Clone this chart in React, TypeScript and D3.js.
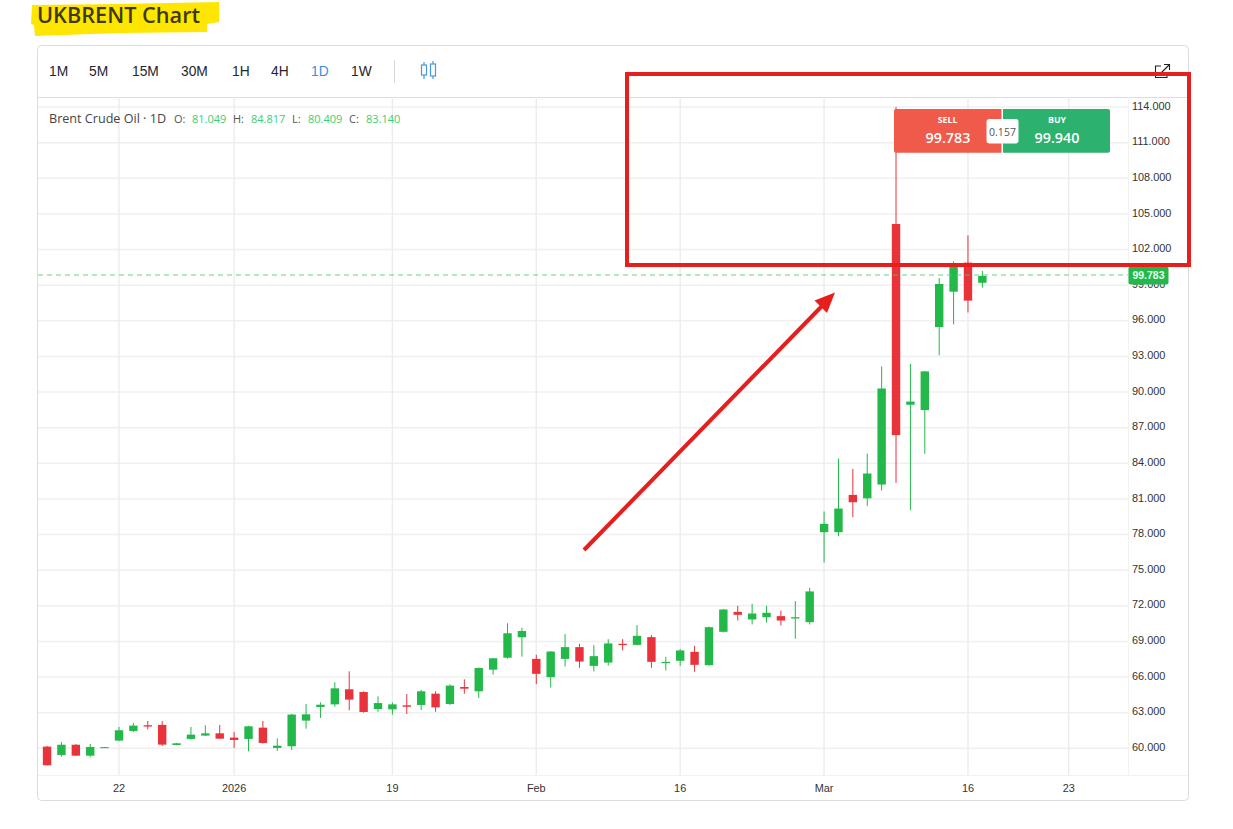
import React from "react";
import * as d3 from "d3";

// Candle values; the first candle sits at bar index -5 (Dec 22 = 0)
const firstIndex = -5;
const opens = [60.14,59.44,60.3,59.38,60.05,60.65,61.46,61.94,61.97,60.28,60.79,61.07,61.26,60.9,60.79,61.74,60.03,60.17,62.33,63.48,63.7,64.97,64.74,63.31,63.28,63.62,63.65,64.6,63.73,65.16,64.8,66.62,67.63,69.35,67.53,65.99,67.53,68.52,66.94,67.22,68.8,68.71,69.36,67.17,67.37,68.12,67.0,69.81,71.49,70.85,71.04,71.13,70.93,70.62,78.2,78.2,81.34,81.049,82.21,104.15,88.93,88.48,95.47,98.45,100.9,99.2];
const closes = [58.57,60.3,59.38,60.11,60.1,61.52,61.91,61.83,60.31,60.42,61.15,61.26,60.81,60.7,61.85,60.45,60.22,62.84,62.86,63.67,65.05,64.1,63.06,63.81,63.7,63.5,64.8,63.45,65.28,65.02,66.76,67.58,69.69,69.88,66.27,68.15,68.52,67.31,67.76,68.83,68.69,69.47,67.28,67.28,68.24,67.03,70.2,71.69,71.24,71.35,71.41,70.76,71.04,73.21,78.9,80.19,80.72,83.14,90.3,86.37,89.2,91.74,99.1,100.55,97.7,99.783];
const highs = [60.2,60.53,60.35,60.37,60.12,61.8,62.13,62.3,62.3,60.45,61.8,61.94,61.97,61.38,61.9,62.3,60.84,62.9,63.73,63.87,65.56,66.48,64.8,64.38,63.87,64.57,64.91,64.8,65.39,65.81,66.8,67.6,70.53,70.16,67.87,68.17,69.61,68.8,68.69,69.19,69.19,70.37,69.53,67.7,68.35,68.63,70.25,71.72,72,72.17,72,71.6,72.4,73.52,79.94,84.4,83.53,84.817,92.16,114,92.38,91.76,99.6,101,103.2,100.2];
const lows = [58.55,59.3,59.35,59.24,60.03,60.6,61.38,61.6,60.2,60.25,60.75,61.04,60.79,60.03,59.75,60.4,59.78,59.86,61.65,62.55,63.5,63.2,63.0,63.08,62.83,62.89,63.22,63.08,63.65,64.6,64.24,66.2,67.55,67.72,65.4,65.12,66.89,66.78,66.47,66.97,68.24,68.69,66.78,66.55,66.94,66.44,66.97,69.75,70.76,70.43,70.6,70.34,69.22,70.43,75.64,77.86,79.46,80.409,81.71,82.35,80.05,84.8,93.1,95.7,96.7,98.8];

const priceTicks = [60,63,66,69,72,75,78,81,84,87,90,93,96,99,102,105,108,111,114];
const dateTickLabels = ["22","2026","19","Feb","16","Mar","16","23"];
const dateTickIndexes = [0,8,19,29,39,49,59,66];
const intervals = ["1M","5M","15M","30M","1H","4H","1D","1W"];
const intervalX = [49,89,132,181,232,271,311,351];
const legendLabels = ["O:","H:","L:","C:"];
const legendValues = ["81.049","84.817","80.409","83.140"];
const legendLabelX = [174,233,292,349];
const legendValueX = [192,251,308,366];
const sellPrice = 99.783;
const buyPrice = 99.94;
const spread = 0.157;

const UP = "#22b84a";
const DOWN = "#e8333a";
const SANS = "'Open Sans', sans-serif";
const ARIAL = "'Liberation Sans', Arial, sans-serif";

export default function App() {
  const x = d3.scaleLinear().domain([0, 66]).range([119, 1068.7]);
  const y = d3.scaleLinear().domain([60, 114]).range([748.3, 107.05]);
  const bodyW = 8.4;
  const left = 38, right = 1128, top = 97, bottom = 775;

  return (
    <svg width={1233} height={829} style={{ position: "absolute", left: 0, top: 0, background: "#fff" }}>
      {/* title */}
      <path d="M32 5 L120 4 L219 2 L219 22 L207 24 L207 32 L120 33 L35 36 L34 25 L31 24 Z" fill="#ffe600" />
      <text x={37} y={23} fontFamily={SANS} fontWeight={600} fontSize={21.7} fill="#3f3a00">UKBRENT Chart</text>

      {/* panel */}
      <rect x={37.5} y={45.5} width={1151} height={755} rx={4} fill="#fff" stroke="#dcdcdc" />
      <line x1={38} x2={1188} y1={97.5} y2={97.5} stroke="#dedede" />

      {/* toolbar */}
      {intervals.map((t, i) => (
        <text key={t} x={intervalX[i]} y={76} fontFamily={ARIAL} fontSize={13.8} fill={t === "1D" ? "#3d8fd6" : "#1f2530"}>{t}</text>
      ))}
      <line x1={394.5} x2={394.5} y1={60} y2={83} stroke="#d8d8d8" />
      <g stroke="#4a98dc" fill="none" strokeWidth={1.2}>
        <rect x={421.5} y={65} width={5} height={10} />
        <rect x={430.5} y={64} width={5} height={12} />
        <path d="M424 62V65M424 75V79M433 61V64M433 76V79" />
      </g>
      <g stroke="#222" fill="none" strokeWidth={1.1}>
        <path d="M1161 66H1155.5V77.5H1167V72" />
        <path d="M1161 73L1169 65M1164 64.5H1169.5V70" />
      </g>

      {/* grid */}
      {priceTicks.map(t => (
        <line key={t} x1={left} x2={right} y1={y(t)} y2={y(t)} stroke="#f0f0f0" strokeWidth={1.5} />
      ))}
      {dateTickIndexes.map((d, i) => (
        <line key={i} x1={x(d)} x2={x(d)} y1={top} y2={bottom} stroke="#ececec" strokeWidth={1.4} />
      ))}
      <line x1={left} x2={1188} y1={bottom + 0.5} y2={bottom + 0.5} stroke="#f2f2f2" />
      <line x1={right + 0.5} x2={right + 0.5} y1={top} y2={bottom} stroke="#f2f2f2" />

      {/* candles */}
      {opens.map((o, i) => {
        const c = closes[i];
        const cx = x(i + firstIndex);
        const color = c >= o ? UP : DOWN;
        const yTop = y(Math.max(o, c));
        const yBot = y(Math.min(o, c));
        return (
          <g key={i}>
            <line x1={cx} x2={cx} y1={y(highs[i])} y2={y(lows[i])} stroke={color} strokeWidth={1} />
            <rect x={cx - bodyW / 2} y={yTop} width={bodyW} height={Math.max(yBot - yTop, 1)} fill={color} />
          </g>
        );
      })}

      {/* current price line */}
      <line x1={left} x2={right} y1={275} y2={275} stroke="#3fcf6b" strokeOpacity={0.55} strokeDasharray="5 4" strokeWidth={1.6} />

      {/* axis labels */}
      {priceTicks.map(t => (
        <text key={t} x={1132} y={y(t) + 2.6} fontFamily={ARIAL} fontSize={10.9} fill="#333">{d3.format(".3f")(t)}</text>
      ))}
      {dateTickIndexes.map((d, i) => (
        <text key={i} x={x(d)} y={792} textAnchor="middle" fontFamily={ARIAL} fontSize={10.9} fill="#333">{dateTickLabels[i]}</text>
      ))}
      <rect x={1128.5} y={266.5} width={40} height={18} rx={2} fill={UP} />
      <text x={1148.5} y={278.5} textAnchor="middle" fontFamily={ARIAL} fontWeight={700} fontSize={10.5} fill="#e8fff0">{d3.format(".3f")(sellPrice)}</text>

      {/* legend */}
      <text x={49} y={123} fontFamily={SANS} fontSize={12.6} fill="#444">Brent Crude Oil · 1D</text>
      {legendLabels.map((l, i) => (
        <g key={l}>
          <text x={legendLabelX[i]} y={123} fontFamily={SANS} fontSize={11} fill="#555">{l}</text>
          <text x={legendValueX[i]} y={123} fontFamily={SANS} fontSize={11} fill="#3ccf6f">{legendValues[i]}</text>
        </g>
      ))}

      {/* sell / buy widget */}
      <path d="M896 109H1001.5V152.7H896a2 2 0 0 1-2-2V111a2 2 0 0 1 2-2Z" fill="#ef5a4a" />
      <path d="M1003 109H1108a2 2 0 0 1 2 2V150.7a2 2 0 0 1-2 2H1003Z" fill="#2cb26e" />
      <text x={947.5} y={123} textAnchor="middle" fontFamily={SANS} fontWeight={700} fontSize={8.8} fill="#fff">SELL</text>
      <text x={1057} y={123} textAnchor="middle" fontFamily={SANS} fontWeight={700} fontSize={8.8} fill="#fff">BUY</text>
      <text x={948} y={143} textAnchor="middle" fontFamily={SANS} fontWeight={600} fontSize={14.3} fill="#fff">{d3.format(".3f")(sellPrice)}</text>
      <text x={1057} y={143} textAnchor="middle" fontFamily={SANS} fontWeight={600} fontSize={14.3} fill="#fff">{d3.format(".3f")(buyPrice)}</text>
      <rect x={986.5} y={119} width={32} height={24.5} rx={3} fill="#fff" />
      <text x={1002.5} y={136} textAnchor="middle" fontFamily={SANS} fontSize={10.5} fill="#555">{d3.format(".3f")(spread)}</text>

      {/* annotations */}
      <rect x={627} y={74} width={562} height={191} fill="none" stroke="#e61e1e" strokeWidth={4} />
      <line x1={584} y1={550} x2={822} y2={306} stroke="#e61e1e" strokeWidth={4} />
      <path d="M835 292.5 L827 313 L814.5 300.5 Z" fill="#e61e1e" />
    </svg>
  );
}
